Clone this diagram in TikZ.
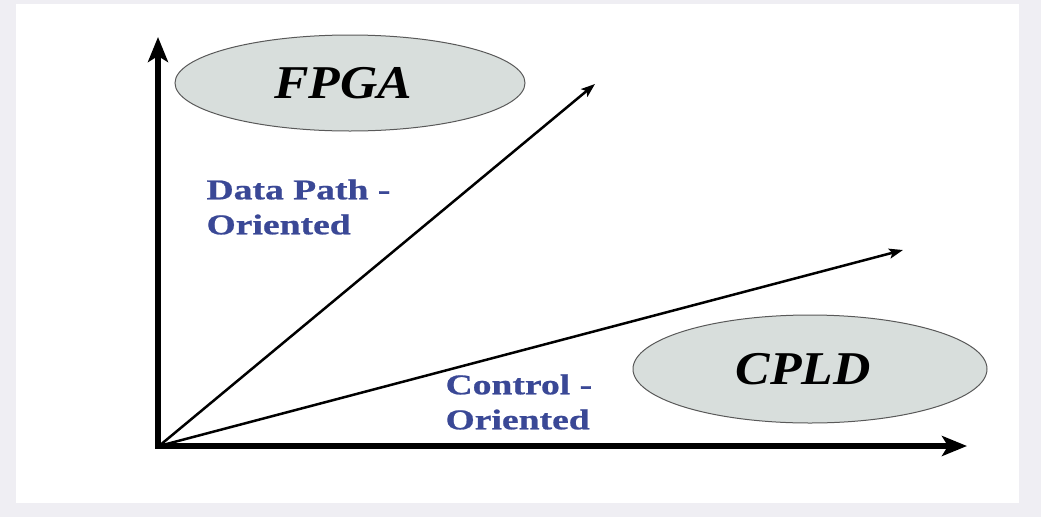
\documentclass[tikz,border=0pt]{standalone}
\usepackage{fontspec}
\usepackage{xcolor}
\usepackage{tikz}
\usetikzlibrary{arrows.meta,shapes.geometric}
\newfontfamily\chipfont[FakeStretch=1.1]{Liberation Serif}
\newfontfamily\labelfont[FakeStretch=1.32,FakeBold=0.8]{Liberation Serif}
\definecolor{lblblue}{HTML}{3A4896}
\definecolor{chipgray}{HTML}{D8DEDC}
\definecolor{framegray}{HTML}{EFEEF3}
\tikzset{axis/.style = {line width=6pt, line join=miter,
    {Stealth[length=25pt,width=20pt,inset=6pt]}-{Stealth[length=25pt,width=20pt,inset=6pt]}},
  ray/.style = {line width=2.5pt, -{Stealth[length=14pt,width=10pt,inset=3pt]}},
  chip/.style = {ellipse, draw=black!65, line width=1pt, fill=chipgray,
    font=\chipfont\fontsize{47}{50}\selectfont\bfseries\itshape},
  orient/.style = {text=lblblue, align=left, anchor=west,
    font=\labelfont\fontsize{28.5}{35}\selectfont\bfseries}}
\begin{document}
\begin{tikzpicture}[x=1pt,y=-1pt]
  \useasboundingbox (0,0) rectangle (1041,517);
  \fill[framegray] (0,0) rectangle (1041,517);
  \fill[white] (16,4) rectangle (1019,503);
  \coordinate (O) at (159,446);
  \coordinate (ytip) at (158,37);
  \coordinate (xtip) at (967,446);
  \draw[axis] (ytip) -- (158,446) -- (xtip);
  \coordinate (fend) at (595,84);
  \coordinate (cend) at (903,250);
  \draw[ray] (O) -- (fend);
  \draw[ray] (O) -- (cend);
  % text sits a little left of the ellipse centre
  \node[chip, minimum width=350pt, minimum height=96pt] (fpga) at (350,83) {FPGA\kern14pt};
  \node[chip, minimum width=354pt, minimum height=108pt] (cpld) at (810,369) {CPLD\kern14pt};
  \node[orient] (datapath) at (203,207) {Data Path -\\Oriented};
  \node[orient] (control) at (442,402) {Control -\\Oriented};
\end{tikzpicture}
\end{document}
